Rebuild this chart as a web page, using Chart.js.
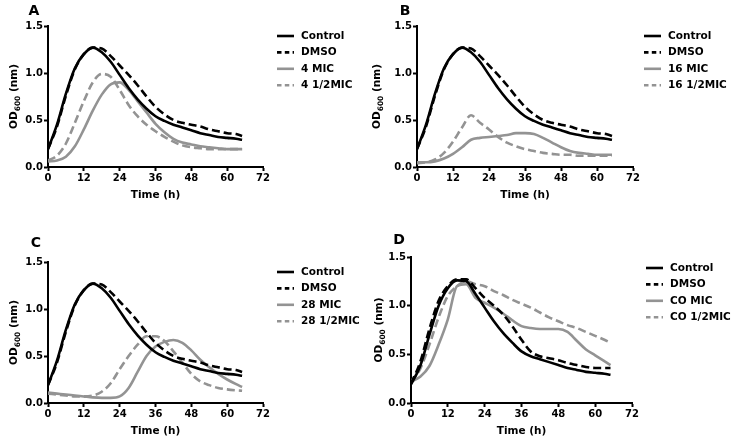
<!DOCTYPE html>
<html>
<head>
<meta charset="utf-8">
<script src="https://cdn.jsdelivr.net/npm/chart.js@4"></script>
<style>
  body { margin: 0; background: #fff; }
  #wrap { position: relative; width: 732px; height: 441px; }
  canvas { position: absolute; }
</style>
</head>
<body>
<div id="wrap">
  <canvas id="panelA" width="366" height="220" style="left:0;top:0"></canvas>
  <canvas id="panelB" width="366" height="220" style="left:366px;top:0"></canvas>
  <canvas id="panelC" width="366" height="221" style="left:0;top:220px"></canvas>
  <canvas id="panelD" width="366" height="221" style="left:366px;top:220px"></canvas>
</div>
<script>
// sampling times (h)
const times = [0, 3, 6, 9, 12, 15, 18, 21, 24, 27, 30, 33, 36, 39, 42, 45, 48, 51, 54, 57, 60, 63, 65];
const xTicks = [0, 12, 24, 36, 48, 60, 72];
const yTicks = [0.0, 0.5, 1.0, 1.5];

// OD600 readings
const controlABC = [0.19, 0.45, 0.78, 1.05, 1.20, 1.27, 1.22, 1.12, 0.98, 0.84, 0.72, 0.62, 0.54, 0.49, 0.45, 0.42, 0.39, 0.36, 0.34, 0.32, 0.31, 0.30, 0.29];
const dmsoABC = [0.19, 0.43, 0.76, 1.04, 1.20, 1.27, 1.26, 1.18, 1.08, 0.98, 0.87, 0.75, 0.64, 0.56, 0.50, 0.47, 0.45, 0.43, 0.40, 0.38, 0.36, 0.35, 0.33];
const mic4 = [0.06, 0.07, 0.11, 0.22, 0.40, 0.60, 0.77, 0.88, 0.90, 0.82, 0.70, 0.58, 0.46, 0.37, 0.30, 0.26, 0.24, 0.22, 0.21, 0.20, 0.19, 0.19, 0.19];
const halfMic4 = [0.07, 0.12, 0.25, 0.47, 0.70, 0.90, 0.99, 0.96, 0.82, 0.66, 0.54, 0.45, 0.38, 0.32, 0.27, 0.23, 0.21, 0.20, 0.19, 0.19, 0.19, 0.19, 0.19];
const mic16 = [0.05, 0.05, 0.06, 0.09, 0.14, 0.21, 0.29, 0.31, 0.32, 0.33, 0.34, 0.36, 0.36, 0.35, 0.31, 0.26, 0.21, 0.17, 0.15, 0.14, 0.13, 0.13, 0.13];
const halfMic16 = [0.04, 0.05, 0.08, 0.15, 0.27, 0.42, 0.55, 0.47, 0.40, 0.32, 0.26, 0.22, 0.19, 0.17, 0.15, 0.14, 0.13, 0.13, 0.12, 0.12, 0.12, 0.12, 0.12];
const mic28 = [0.11, 0.10, 0.09, 0.08, 0.07, 0.06, 0.055, 0.055, 0.07, 0.16, 0.33, 0.50, 0.60, 0.65, 0.67, 0.64, 0.56, 0.46, 0.38, 0.31, 0.25, 0.20, 0.17];
const halfMic28 = [0.10, 0.09, 0.08, 0.07, 0.07, 0.08, 0.12, 0.21, 0.36, 0.50, 0.62, 0.71, 0.71, 0.66, 0.55, 0.43, 0.31, 0.23, 0.19, 0.16, 0.145, 0.135, 0.13];
const controlD = [0.19, 0.38, 0.70, 1.00, 1.18, 1.26, 1.25, 1.12, 0.98, 0.84, 0.72, 0.62, 0.53, 0.48, 0.45, 0.42, 0.39, 0.36, 0.34, 0.32, 0.31, 0.30, 0.29];
const dmsoD = [0.20, 0.42, 0.76, 1.05, 1.20, 1.27, 1.27, 1.18, 1.08, 1.00, 0.91, 0.79, 0.65, 0.53, 0.48, 0.46, 0.44, 0.41, 0.39, 0.37, 0.36, 0.36, 0.36];
const micCO = [0.22, 0.27, 0.38, 0.60, 0.86, 1.20, 1.22, 1.08, 1.03, 0.98, 0.92, 0.85, 0.79, 0.77, 0.76, 0.76, 0.76, 0.73, 0.64, 0.55, 0.49, 0.43, 0.39];
const halfMicCO = [0.22, 0.35, 0.60, 0.88, 1.10, 1.20, 1.25, 1.22, 1.20, 1.15, 1.11, 1.06, 1.02, 0.98, 0.93, 0.88, 0.84, 0.80, 0.77, 0.73, 0.69, 0.65, 0.62];

const BLACK = '#000000';
const GREY = '#939393';
const FONT = '"DejaVu Sans", sans-serif';

function series(label, values, color, dashed) {
    return {
        label: label,
        data: values.map((v, i) => ({ x: times[i], y: v })),
        borderColor: color,
        borderWidth: 2.6,
        borderDash: dashed ? [8, 4] : [],
        pointRadius: 0,
        fill: false,
        tension: 0.4,
        cubicInterpolationMode: 'monotone'
    };
}

// letter, axis titles, legend
const panelDecor = {
    id: 'panelDecor',
    afterDraw(chart, args, o) {
        const ctx = chart.ctx;
        const area = chart.chartArea;
        ctx.save();
        ctx.fillStyle = '#000';

        ctx.font = 'bold 14px ' + FONT;
        ctx.textAlign = 'center';
        ctx.textBaseline = 'middle';
        ctx.fillText(o.letter, o.letterX, o.letterY);

        // x title
        ctx.font = 'bold 10.5px ' + FONT;
        ctx.fillText('Time (h)', (area.left + area.right) / 2, area.bottom + 28);

        // y title with subscript
        const big = 'bold 10.5px ' + FONT, small = 'bold 7.5px ' + FONT;
        ctx.font = big;
        const w1 = ctx.measureText('OD').width, w3 = ctx.measureText(' (nm)').width;
        ctx.font = small;
        const w2 = ctx.measureText('600').width;
        const total = w1 + w2 + w3;
        ctx.translate(o.yTitleX, (area.top + area.bottom) / 2);
        ctx.rotate(-Math.PI / 2);
        ctx.textAlign = 'left';
        ctx.textBaseline = 'alphabetic';
        let x = -total / 2;
        ctx.font = big; ctx.fillText('OD', x, 4); x += w1;
        ctx.font = small; ctx.fillText('600', x, 7); x += w2;
        ctx.font = big; ctx.fillText(' (nm)', x, 4);
        ctx.restore();

        // legend
        ctx.save();
        ctx.font = 'bold 10.5px ' + FONT;
        ctx.textBaseline = 'middle';
        ctx.textAlign = 'left';
        chart.data.datasets.forEach((ds, i) => {
            const y = o.legendY + i * 16.4;
            ctx.strokeStyle = ds.borderColor;
            ctx.lineWidth = ds.borderWidth;
            ctx.setLineDash(ds.borderDash.length ? [4.5, 3.3] : []);
            ctx.beginPath();
            ctx.moveTo(o.legendX, y);
            ctx.lineTo(o.legendX + 17, y);
            ctx.stroke();
            ctx.fillStyle = '#000';
            ctx.fillText(ds.label, o.legendX + 24, y);
        });
        ctx.restore();
    }
};

function drawPanel(id, datasets, box, decor) {
    const canvas = document.getElementById(id);
    const H = canvas.height, W = canvas.width;
    return new Chart(canvas.getContext('2d'), {
        type: 'line',
        data: { datasets: datasets },
        options: {
            responsive: false,
            animation: false,
            devicePixelRatio: 1,
            layout: { padding: { left: 0, top: box.top, right: W - box.right, bottom: 0 } },
            plugins: {
                legend: { display: false },
                tooltip: { enabled: false },
                panelDecor: decor
            },
            scales: {
                x: {
                    type: 'linear',
                    min: 0, max: 72,
                    afterBuildTicks: s => { s.ticks = xTicks.map(v => ({ value: v })); },
                    afterFit: s => { s.height = H - box.bottom; },
                    border: { color: '#000', width: 2 },
                    grid: { drawOnChartArea: false, drawTicks: true, tickLength: 4, tickWidth: 2, tickColor: '#000' },
                    ticks: { color: '#000', padding: 1, maxRotation: 0, font: { family: FONT, weight: 'bold', size: 10 } }
                },
                y: {
                    type: 'linear',
                    min: 0, max: 1.5,
                    afterBuildTicks: s => { s.ticks = yTicks.map(v => ({ value: v })); },
                    afterFit: s => { s.width = box.left; },
                    border: { color: '#000', width: 2 },
                    grid: { drawOnChartArea: false, drawTicks: true, tickLength: 4, tickWidth: 2, tickColor: '#000' },
                    ticks: { color: '#000', padding: 1, callback: v => v.toFixed(1), font: { family: FONT, weight: 'bold', size: 10 } }
                }
            }
        },
        plugins: [panelDecor]
    });
}

drawPanel('panelA', [
    series('Control', controlABC, BLACK, false),
    series('DMSO', dmsoABC, BLACK, true),
    series('4 MIC', mic4, GREY, false),
    series('4 1/2MIC', halfMic4, GREY, true)
], { left: 48, right: 263, top: 26, bottom: 167 },
   { letter: 'A', letterX: 34, letterY: 11, yTitleX: 13, legendX: 277, legendY: 36 });

drawPanel('panelB', [
    series('Control', controlABC, BLACK, false),
    series('DMSO', dmsoABC, BLACK, true),
    series('16 MIC', mic16, GREY, false),
    series('16 1/2MIC', halfMic16, GREY, true)
], { left: 51, right: 267, top: 26, bottom: 167 },
   { letter: 'B', letterX: 39, letterY: 11, yTitleX: 10, legendX: 278, legendY: 36 });

drawPanel('panelC', [
    series('Control', controlABC, BLACK, false),
    series('DMSO', dmsoABC, BLACK, true),
    series('28 MIC', mic28, GREY, false),
    series('28 1/2MIC', halfMic28, GREY, true)
], { left: 48, right: 263, top: 42, bottom: 183 },
   { letter: 'C', letterX: 36, letterY: 23, yTitleX: 13, legendX: 277, legendY: 52 });

drawPanel('panelD', [
    series('Control', controlD, BLACK, false),
    series('DMSO', dmsoD, BLACK, true),
    series('CO MIC', micCO, GREY, false),
    series('CO 1/2MIC', halfMicCO, GREY, true)
], { left: 45, right: 266, top: 37, bottom: 183 },
   { letter: 'D', letterX: 33, letterY: 20, yTitleX: 12, legendX: 280, legendY: 48 });
</script>
</body>
</html>
